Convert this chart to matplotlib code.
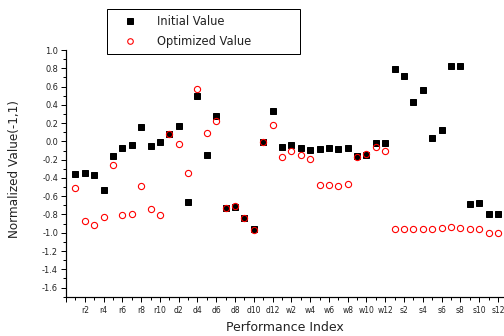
import matplotlib
matplotlib.use("Agg")
import matplotlib.pyplot as plt
from matplotlib.ticker import MultipleLocator, FixedLocator, FuncFormatter
import numpy as np

plt.rcParams['font.family'] = ['DejaVu Sans']

# Performance indices: r1..r10, d1..d12, w1..w12, s1..s12
groups = [("r", 10), ("d", 12), ("w", 12), ("s", 12)]
categories = [f"{p}{i}" for p, n in groups for i in range(1, n + 1)]

initial_value = [
    -0.357, -0.350, -0.368, -0.535, -0.157, -0.073, -0.040, 0.160, -0.047, -0.004,
    0.077, 0.168, -0.663, 0.500, -0.146, 0.273, -0.732, -0.720, -0.838, -0.958, -0.005, 0.335,
    -0.062, -0.044, -0.077, -0.095, -0.084, -0.077, -0.084, -0.073, -0.160, -0.153, -0.015, -0.018,
    0.790, 0.714, 0.434, 0.561, 0.036, 0.120, 0.820, 0.820, -0.681, -0.674, -0.798, -0.795,
]
optimized_value = [
    -0.506, -0.870, -0.920, -0.827, -0.262, -0.805, -0.790, -0.490, -0.743, -0.809,
    0.077, -0.029, -0.343, 0.576, 0.095, 0.222, -0.725, -0.710, -0.835, -0.965, -0.005, 0.175,
    -0.171, -0.102, -0.153, -0.193, -0.474, -0.474, -0.485, -0.470, -0.175, -0.139, -0.058, -0.106,
    -0.955, -0.958, -0.962, -0.958, -0.958, -0.951, -0.940, -0.951, -0.958, -0.958, -1.000, -1.000,
]

W, H = 504, 336
AX_L, AX_B, AX_W, AX_H = 66, 39.3, W - 66, 246.7
fig = plt.figure(figsize=(W / 72, H / 72), dpi=72)
ax = fig.add_axes([AX_L / W, AX_B / H, AX_W / W, AX_H / H])

x = np.arange(1, len(categories) + 1)
ax.plot(x, initial_value, linestyle="none", marker="s", markersize=6.3,
        color="black", label="Initial Value", zorder=3)
ax.plot(x, optimized_value, linestyle="none", marker="o", markersize=6.2,
        markerfacecolor="none", markeredgecolor="red", markeredgewidth=1.1,
        label="Optimized Value", zorder=4)

ax.set_xlim(0, 46.65)
ax.set_ylim(-1.7, 1.0)

# x ticks: labelled every second index, minor ticks in between
major_pos = list(range(0, len(categories) + 1, 2))
major_lab = [""] + [categories[i - 1] for i in major_pos[1:]]
ax.xaxis.set_major_locator(FixedLocator(major_pos))
ax.set_xticklabels(major_lab)
ax.xaxis.set_minor_locator(MultipleLocator(1))

ax.yaxis.set_major_locator(MultipleLocator(0.2))
ax.yaxis.set_minor_locator(MultipleLocator(0.1))
ax.yaxis.set_major_formatter(FuncFormatter(
    lambda v, _: f"{v:.1f}".replace("-0.0", "0.0")))

ax.tick_params(axis="both", which="major", length=5, width=1, direction="out",
               labelcolor="#222222")
ax.tick_params(axis="both", which="minor", length=3, width=1, direction="out")
ax.tick_params(axis="x", which="major", pad=4, labelsize=7.6)
ax.tick_params(axis="y", which="major", pad=3, labelsize=8.3)

for side in ("top", "right"):
    ax.spines[side].set_visible(False)
for side in ("left", "bottom"):
    ax.spines[side].set_linewidth(1.2)

ax.set_xlabel("Performance Index", fontsize=12.5, color="#222222")
ax.xaxis.set_label_coords(0.5, -(321 - 296.7) / AX_H)
ax.set_ylabel("Normalized Value(-1,1)", fontsize=12, color="#222222")
ax.yaxis.set_label_coords(-(66 - 21) / AX_W, (296.7 - 169) / AX_H)

leg = fig.legend(loc="upper left",
                 bbox_to_anchor=(106.7 / W, 1 - 51 / H, 193.3 / W, 42 / H),
                 bbox_transform=fig.transFigure, borderaxespad=0, mode="expand",
                 fontsize=11.5, frameon=True, fancybox=False, framealpha=1,
                 edgecolor="black", handlelength=3.0, handletextpad=0.8,
                 borderpad=0.55, labelspacing=0.55, markerscale=0.9)
leg.get_frame().set_linewidth(1.0)
for t in leg.get_texts():
    t.set_color("#222222")

fig.savefig("out.png", dpi=72)
